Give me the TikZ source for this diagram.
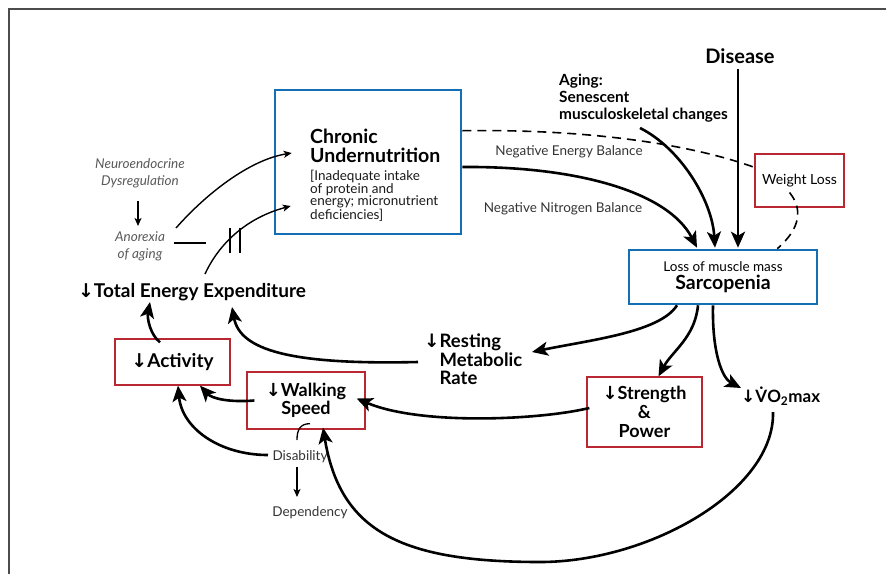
\documentclass[tikz,border=0pt]{standalone}
\usepackage{fontspec}
\setmainfont{Lato}
\newfontfamily\arrowfont{DejaVu Sans}
\usetikzlibrary{arrows.meta,calc}
\definecolor{boxblue}{RGB}{20,110,180}
\definecolor{boxred}{RGB}{185,40,50}
\newcommand{\dn}{{\arrowfont\char"2193}}

\begin{document}
\begin{tikzpicture}
    [x=1pt,y=-1pt,
     bluebox/.style={draw=boxblue, line width=2.6pt, inner sep=0pt},
     redbox/.style={draw=boxred, line width=1.3pt, inner sep=0pt, align=center},
     big/.style={font=\bfseries\fontsize{19}{19}\selectfont, inner sep=0pt},
     small/.style={font=\fontsize{13.5}{14}\selectfont, text=black!80, inner sep=0pt},
     note/.style={font=\itshape\fontsize{13.5}{17}\selectfont, text=black!65, align=center, inner sep=0pt},
     arr/.style={line width=2.6pt, -{Stealth[length=16pt,width=14pt,inset=4pt]}},
     thinarr/.style={line width=1.4pt, -{Stealth[length=8pt,width=7pt,inset=2pt]}}]

    \useasboundingbox (0,0) rectangle (886,574);
    \draw[line width=1.6pt, black!70] (9,574) -- (9,9) -- (886,9);

    % boxes
    \node[bluebox, minimum width=186pt, minimum height=144pt] (chronic) at (368,162) {};
    \node[bluebox, minimum width=188pt, minimum height=54pt, align=center] (sarc) at (723,277)
        {\fontsize{13.5}{14}\selectfont Loss of muscle mass\\[3pt]\bfseries\fontsize{19.5}{19.5}\selectfont Sarcopenia};
    \node[redbox, minimum width=89pt, minimum height=53pt, font=\fontsize{14}{15}\selectfont] (wloss) at (799.5,180.5) {Weight Loss};
    \node[redbox, big, minimum width=115pt, minimum height=46pt] (activity) at (172.5,362) {\dn Activity};
    \node[redbox, big, minimum width=118pt, minimum height=57pt, font=\bfseries\fontsize{18}{18}\selectfont] (walking) at (306,400.5) {\dn Walking\\Speed};
    \node[redbox, big, minimum width=115pt, minimum height=70pt, font=\bfseries\fontsize{18}{19}\selectfont] (strength) at (644.5,412) {\dn Strength\\\&\\Power};

    % texts
    \node[big, align=left, anchor=north west, font=\bfseries\fontsize{19.5}{19}\selectfont] (chronictxt) at (310,129) {Chronic\\Undernutrition};
    \node[small, align=left, anchor=north west, text=black!90, font=\fontsize{13.5}{12.5}\selectfont] (lack) at (310,170)
        {[Inadequate intake\\of protein and\\energy; micronutrient\\deficiencies]};
    \node[big, font=\bfseries\fontsize{20}{20}\selectfont] (disease) at (740,56) {Disease};
    \node[big, align=left, anchor=north west, font=\bfseries\fontsize{15.4}{17}\selectfont] (aging) at (559,74)
        {Aging:\\Senescent\\musculoskeletal changes};
    \node[note] (neuro) at (140,173) {Neuroendocrine\\Dysregulation};
    \node[note] (anorexia) at (140,246) {Anorexia\\of aging};
    \node[big] (tee) at (192,292) {\dn Total Energy Expenditure};
    \node[big, align=left, anchor=north west, font=\bfseries\fontsize{18.5}{18.5}\selectfont] (resting) at (424,334)
        {\dn Resting\\\phantom{\dn}Metabolic\\\phantom{\dn}Rate};
    \node[big, anchor=west, font=\bfseries\fontsize{17}{17}\selectfont] (vo2) at (741,396) {\dn\.{V}O\textsubscript{2}max};
    \node[small] (disab) at (300,457) {Disability};
    \node[small] (depend) at (310,513) {Dependency};
    \node[small] (neb) at (569,152) {Negative Energy Balance};
    \node[small] (nnb) at (563,209) {Negative Nitrogen Balance};

    % inputs to undernutrition
    \draw[thinarr] ($(neuro)+(-2,28)$) -- ($(anorexia)+(-2,-20)$);
    \draw[thinarr] ($(anorexia)+(36,-18)$) .. controls +(29,-33) and +(-43,7) .. ($(chronic.west)+(18,-9)$);
    \coordinate (block) at (235,240);
    \draw[line width=1.6pt] ($(anorexia)+(34,-3)$) -- ($(block)+(-29,3)$);
    \draw[line width=1.6pt] ($(block)+(-5,-12)$) -- ++(0,25);
    \draw[line width=1.6pt] ($(block)+(5,-12)$) -- ++(0,25);
    \draw[thinarr] ($(tee)+(13,-18)$) .. controls +(10,-22) and +(-52,14) .. ($(chronic.west)+(17,44)$);

    % into sarcopenia
    \draw[arr] ($(chronic.east)+(0,5)$) .. controls +(114,-1) and +(-29,-56) .. ($(sarc.north)+(-26,-1)$);
    \draw[arr] ($(aging.north west)+(81,54)$) .. controls +(40,20) and +(-3,-48) .. ($(sarc.north)+(-8,-1)$);
    \draw[arr] ($(disease)+(-2,13)$) -- ($(sarc.north)+(15,-1)$);
    \draw[line width=1.6pt, dash pattern=on 9pt off 6pt] ($(chronic.north east)+(0,42)$)
        .. controls +(139,-2) and +(-55,-20) .. ($(wloss.north west)+(0,14)$);
    \draw[line width=1.6pt, dash pattern=on 9pt off 6pt] ($(wloss)+(-10,12)$)
        .. controls +(13,16) and +(24,-21) .. ($(sarc.north east)+(-41,0)$);

    % out of sarcopenia
    \draw[arr] ($(sarc.south)+(-46,0)$) .. controls +(-17,27) and +(58,-12) .. ($(resting.north west)+(108,18)$);
    \draw[arr] ($(sarc.south)+(-25,0)$) .. controls +(-3,32) and +(13.5,-25) .. ($(strength.north)+(14,0)$);
    \draw[arr] ($(sarc.south)+(-10,0)$) .. controls +(-1,47) and +(-19,-10) .. ($(vo2.west)+(0,-8)$);

    % back to activity and energy expenditure
    \draw[arr] ($(strength.west)+(3,-4)$) .. controls +(-50,12) and +(64,27) .. ($(walking.east)+(-9,-2)$);
    \draw[arr] ($(resting.north west)+(-6,28)$) .. controls +(-128,3) and +(8,43) .. ($(tee)+(40,15)$);
    \draw[arr] ($(activity.north)+(-12.5,4)$) .. controls +(-10,-8) and +(-3,16) .. ($(tee)+(-42,10)$);
    \draw[arr] ($(walking.west)+(8,0)$) .. controls +(-25,2) and +(12,13) .. ($(activity.south)+(27.5,0)$);
    \draw[arr] ($(disab)+(-32,-2)$) .. controls +(-48,0) and +(4,43) .. ($(activity.south)+(5.5,0)$);
    \draw[line width=1.3pt] ($(walking.south)+(4,-6)$) .. controls +(-10,0) and +(0,-10) .. ($(disab)+(-3,-17)$);
    \draw[thinarr] ($(disab)+(-3,10)$) -- ($(depend)+(-13,-16)$);
    \coordinate (vbottom) at (540,562);
    \draw[arr] ($(vo2.west)+(32,16)$) .. controls +(2,78) and +(110,0) .. (vbottom)
        .. controls +(-140,0) and +(17,103) .. ($(walking.south)+(17,-2)$);
\end{tikzpicture}
\end{document}
